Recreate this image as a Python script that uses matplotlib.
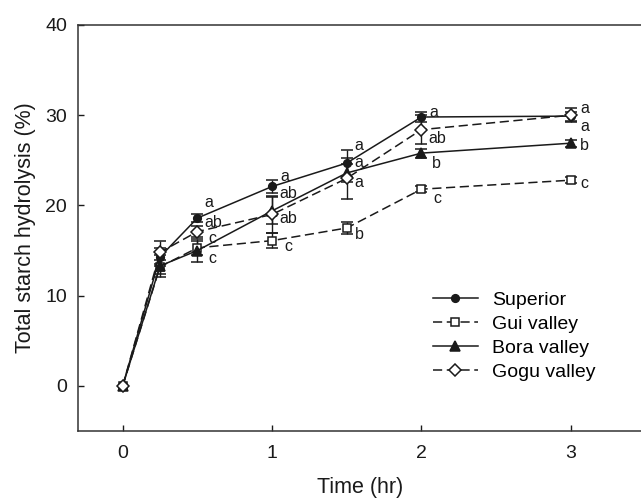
import matplotlib.pyplot as plt
from matplotlib.lines import Line2D

plt.rcParams['font.family'] = ['Liberation Sans', 'DejaVu Sans']

time_hr = [0, 0.25, 0.5, 1, 1.5, 2, 3]

superior = [0, 14.3, 18.6, 22.1, 24.7, 29.8, 29.9]
superior_err = [0, 1.0, 0.4, 0.7, 1.5, 0.6, 0.5]
gui = [0, 13.2, 15.3, 16.1, 17.5, 21.8, 22.8]
gui_err = [0, 0.8, 0.8, 0.8, 0.7, 0.3, 0.3]
bora = [0, 13.3, 15.0, 19.4, 23.6, 25.8, 26.9]
bora_err = [0, 1.2, 1.3, 1.5, 1.0, 0.5, 0.4]
gogu = [0, 14.8, 17.1, 19.0, 23.0, 28.4, 30.0]
gogu_err = [0, 1.3, 0.6, 2.0, 2.3, 1.6, 0.8]

# significance letters (none at 0 and 0.25 hr)
superior_sig = ['', '', 'a', 'a', 'a', 'a', 'a']
gui_sig = ['', '', 'c', 'c', 'b', 'c', 'c']
bora_sig = ['', '', 'c', 'ab', 'a', 'b', 'b']
gogu_sig = ['', '', 'ab', 'ab', 'a', 'ab', 'a']

# label offsets in pixels (dx, dy up)
superior_off = [None, None, (11, 16), (13, 10), (12, 18), (12, 5), (14, 8)]
gui_off = [None, None, (15, 9), (16, -6), (13, -7), (16, -9), (14, -3)]
bora_off = [None, None, (15, -8), (16, 17), (12, 10), (15, -10), (14, -2)]
gogu_off = [None, None, (16, 9), (16, -4), (12, -4), (16, -9), (14, -11)]

fig = plt.figure(figsize=(6.41, 4.99), dpi=100)
ax = fig.add_axes([0.1222, 0.1363, 0.8778, 0.8136])

ink = '#1a1a1a'
dash = (0, (6, 3))
series = [
    ('Superior', superior, superior_err, superior_sig, superior_off, '-', 'o', ink, 5.5),
    ('Gui valley', gui, gui_err, gui_sig, gui_off, dash, 's', 'white', 6),
    ('Bora valley', bora, bora_err, bora_sig, bora_off, '-', '^', ink, 6.5),
    ('Gogu valley', gogu, gogu_err, gogu_sig, gogu_off, dash, 'D', 'white', 6),
]

handles = []
for name, vals, err, sig, off, ls, mk, fc, ms in series:
    ax.errorbar(time_hr, vals, yerr=err, color=ink, lw=1.1, ls=ls,
                marker=mk, mfc=fc, mec=ink, ms=ms, mew=1.1,
                ecolor=ink, elinewidth=1.0, capsize=4, capthick=1.0)
    handles.append(Line2D([], [], color=ink, lw=1.1, ls=ls, marker=mk,
                          mfc=fc, mec=ink, ms=ms, mew=1.1, label=name))
    for x, y, s, o in zip(time_hr, vals, sig, off):
        if s:
            ax.annotate(s, (x, y), xytext=o, textcoords='offset pixels',
                        ha='center', va='center', fontsize=11.5, color=ink)

ax.set_xlim(-0.297, 3.47)
ax.set_ylim(-5, 40)
ax.set_xticks([0, 1, 2, 3])
ax.set_yticks([0, 10, 20, 30, 40])
ax.tick_params(direction='in', length=4, width=1.0, labelsize=14, colors=ink)
ax.tick_params(axis='x', pad=10)
ax.tick_params(axis='y', pad=8)
ax.spines['right'].set_visible(False)
for s in ['left', 'top', 'bottom']:
    ax.spines[s].set_linewidth(1.1)
    ax.spines[s].set_color('#333333')

ax.set_xlabel('Time (hr)', fontsize=15.5, labelpad=11, color=ink)
ax.set_ylabel('Total starch hydrolysis (%)', fontsize=15.5, labelpad=7, color=ink)

ax.legend(handles=handles, loc='upper left', bbox_to_anchor=(0.63, 0.345),
          frameon=False, fontsize=14, handlelength=2.3, handletextpad=0.75,
          labelspacing=0.33, borderaxespad=0, borderpad=0)

fig.savefig('out.png', dpi=100)
